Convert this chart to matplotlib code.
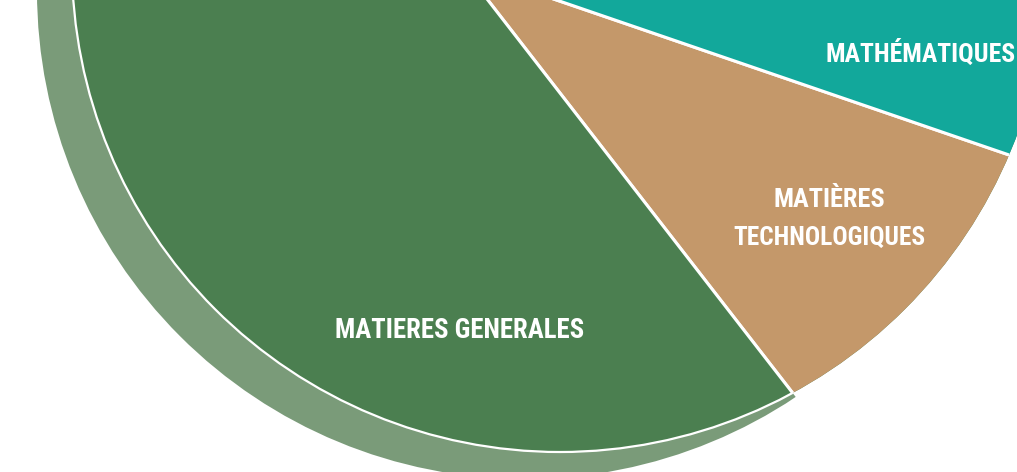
import matplotlib
matplotlib.use("Agg")
import matplotlib.pyplot as plt
from matplotlib.patches import Circle
from matplotlib import font_manager
from matplotlib.font_manager import FontProperties

# ---- data -------------------------------------------------------------
categories = ["MATIÈRES\nTECHNOLOGIQUES", "MATIERES GENERALES", "MATHÉMATIQUES"]
shares = [9.25, 55.0, 35.75]          # percent of the pie
colors = ["#C4986A", "#4B7F50", "#12A89B"]
shadow_color = "#7A9B79"

# ---- pick the narrowest bold sans face that is installed -----------------
stretch_rank = {"ultra-condensed": 1, "extra-condensed": 2, "condensed": 3,
                "semi-condensed": 4, "normal": 5, "semi-expanded": 6,
                "expanded": 7, "extra-expanded": 8, "ultra-expanded": 9}
pref = ["Bebas Neue", "Oswald", "Roboto Condensed", "Liberation Sans Narrow",
        "Noto Sans", "Open Sans", "DejaVu Sans", "Roboto", "Liberation Sans"]
best = None
for f in font_manager.fontManager.ttflist:
    if f.name not in pref or f.style != "normal":
        continue
    w = f.weight if isinstance(f.weight, int) else 700 if "bold" in str(f.weight) else 400
    if w < 600:
        continue
    st = f.stretch if isinstance(f.stretch, int) else stretch_rank.get(str(f.stretch), 5) * 100
    key = (st, pref.index(f.name), abs(w - 700))
    if best is None or key < best[0]:
        best = (key, f.fname)
fp = FontProperties(fname=best[1]) if best else FontProperties(family="DejaVu Sans", weight="bold")

# ---- figure -------------------------------------------------------------
fig = plt.figure(figsize=(10.17, 4.72), dpi=100)
ax = fig.add_axes([0, 0, 1, 1])

shadow = Circle((525, -9), 488, facecolor=shadow_color, edgecolor="none", zorder=0)
ax.add_patch(shadow)

base = Circle((560, -36), 488, facecolor=colors[1], edgecolor="none", zorder=1)
ax.add_patch(base)

wedges, _ = ax.pie(
    shares,
    colors=colors,
    startangle=18.9,
    center=(463, -32),
    radius=700,
    wedgeprops=dict(edgecolor="white", linewidth=2.2),
    frame=False,
)
for w in wedges:
    w.set_zorder(2)
    w.set_clip_on(True)
    w.set_clip_path(base)

# shadow only behind the green slice
shadow.set_clip_path(wedges[1])

rim = Circle((560, -36), 488, fill=False, edgecolor="white", linewidth=1.6, zorder=3)
ax.add_patch(rim)
rim.set_clip_path(wedges[1])

ax.set_xlim(0, 1017)
ax.set_ylim(472, 0)
ax.set_aspect("equal")
ax.axis("off")

# ---- labels: (text, x, baseline y, target width px) ---------------------
l1, l2 = categories[0].split("\n")
labels = [(l1, 829, 207, 112), (l2, 829, 245, 192),
          (categories[1], 460, 338, 250), (categories[2], 921, 62, 190)]
fig.canvas.draw()
renderer = fig.canvas.get_renderer()
texts = []
for s, x, y, tw in labels:
    t = ax.text(x, y, s, fontproperties=fp, color="white", fontsize=20,
                ha="center", va="baseline", zorder=5)
    texts.append((t, tw))
for t, tw in texts:
    wpx = t.get_window_extent(renderer).width
    t.set_fontsize(min(20 * tw / wpx, 26))

fig.savefig("out.png", dpi=100)
